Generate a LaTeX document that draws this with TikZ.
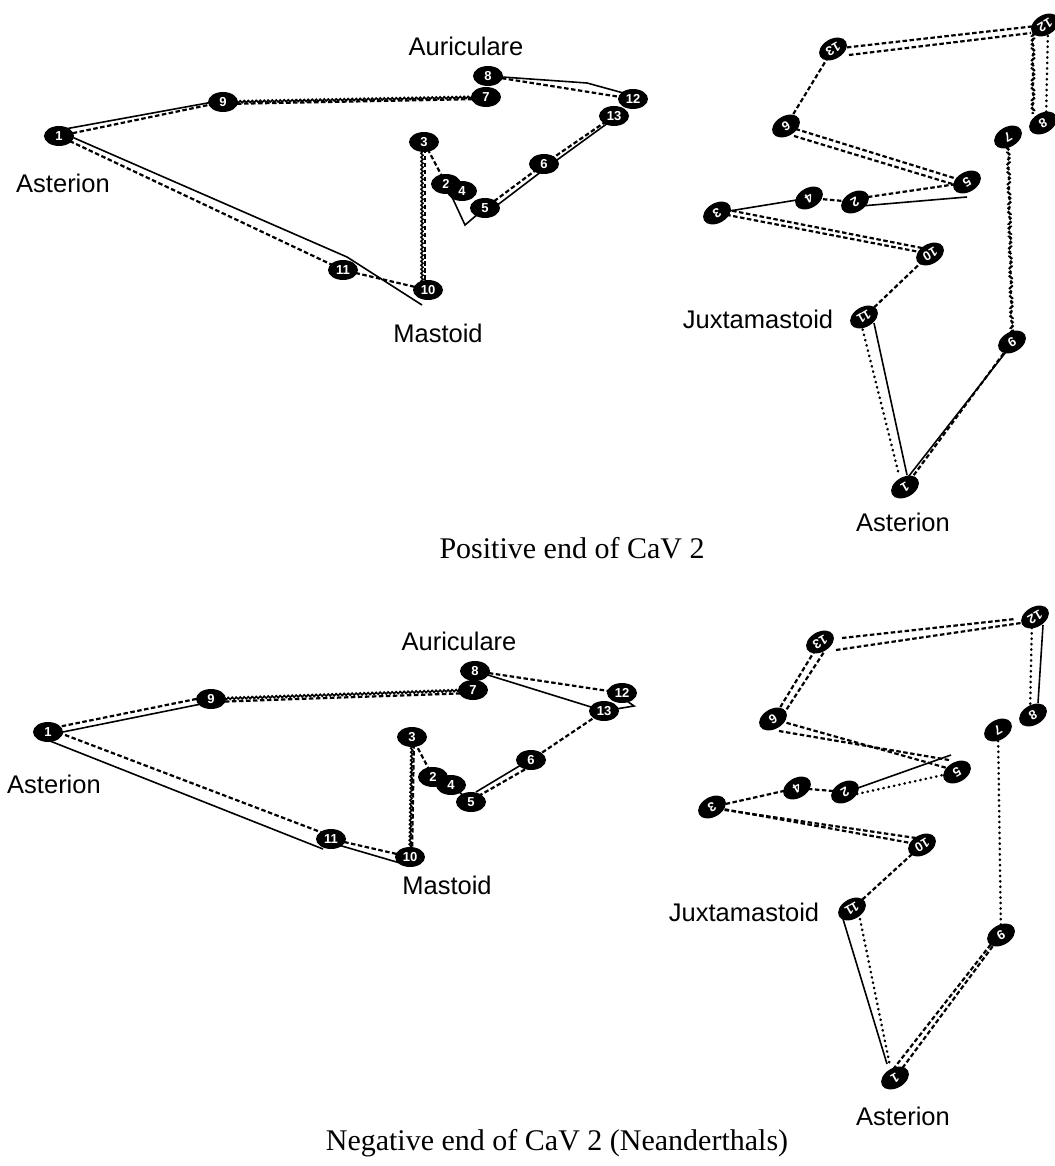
\documentclass[tikz,border=0pt]{standalone}
\usepackage{fontspec}
\setmainfont{Liberation Serif}
\newfontfamily\lblfamily{Liberation Sans}
\usetikzlibrary{shapes.geometric,decorations.pathmorphing}
\newcommand\mkfont{\lblfamily\bfseries\fontsize{13}{13}\selectfont}
\newcommand\lblfont{\lblfamily\fontsize{25.5}{28}\selectfont}
\newcommand\capfont{\fontsize{30}{34}\selectfont}
\tikzset{
  mk/.style={ellipse, fill=black, inner sep=0pt, minimum width=30pt,
    minimum height=20pt, text=white, font=\mkfont},
  mkr/.style={mk, rotate=210},
  solln/.style={line width=1.6pt},
  dsh/.style={line width=2.2pt, dash pattern=on 4.5pt off 2.5pt},
  dotln/.style={line width=2.6pt, line cap=round, dash pattern=on 0.4pt off 5pt},
  wav/.style={decorate, decoration={snake, amplitude=1pt, segment length=4pt}},
  lbl/.style={font=\lblfont, inner sep=0pt},
  captxt/.style={font=\capfont, inner sep=0pt}
}
\begin{document}
\begin{tikzpicture}[x=1pt, y=-1pt]
\useasboundingbox (0,0) rectangle (1054,1166);
\fill[white] (0,0) rectangle (1054,1166);

% ---------------- upper left outline ----------------
\coordinate (a1) at (59,136);   \coordinate (a9) at (223,102);
\coordinate (a8) at (488,76);   \coordinate (a7) at (486,97);
\coordinate (a12) at (633,99);  \coordinate (a13) at (614,116);
\coordinate (a6) at (544,164);  \coordinate (a5) at (485,208);
\coordinate (a4) at (462,191);  \coordinate (a2) at (446,184);
\coordinate (a3) at (424,142);  \coordinate (a10) at (428,290);
\coordinate (a11) at (343,270);
\coordinate (ak1) at (587,83);  \coordinate (ak2) at (465,225);

\draw[dsh] (a1) -- (a9);
\draw[solln] ([shift={(6,-7)}]a1) -- ([shift={(-10,0)}]a9);
\draw[solln,wav] (a9) -- (a7);
\draw[dsh] ([shift={(0,2)}]a9) -- ([shift={(-4,2)}]a7);
\draw[solln] (a8) -- (ak1) -- ([shift={(-6,-5)}]a12);
\draw[dsh] (a8) -- (a12);
\draw[dsh] (a12) -- (a13) -- (a6) -- (a5);
\draw[solln] ([shift={(-2,4)}]a13) -- ([shift={(2,4)}]a6) -- ([shift={(2,5)}]a5);
\draw[solln] (a5) -- (ak2) -- (a2);
\draw[dsh] (a2) -- (a3);
\draw[solln,wav] ([shift={(-2,0)}]a3) -- ([shift={(-6,-6)}]a10);
\draw[dsh] ([shift={(1,0)}]a3) -- ([shift={(-3,0)}]a10);
\draw[dsh] (a10) -- (a11) -- (a1);
\draw[solln] ([shift={(6,-2)}]a1) -- ([shift={(4,-13)}]a11) -- ([shift={(-6,15)}]a10);

\node[mk] (A1) at (a1) {1};   \node[mk] (A9) at (a9) {9};
\node[mk] (A8) at (a8) {8};   \node[mk] (A7) at (a7) {7};
\node[mk] (A12) at (a12) {12};\node[mk] (A13) at (a13) {13};
\node[mk] (A6) at (a6) {6};   \node[mk] (A3) at (a3) {3};
\node[mk] (A2) at (a2) {2};   \node[mk] (A4) at (a4) {4};
\node[mk] (A5) at (a5) {5};   \node[mk] (A11) at (a11) {11};
\node[mk] (A10) at (a10) {10};

\node[lbl] (ta1) at (466,46) {Auriculare};
\node[lbl] (ta2) at (63,183) {Asterion};
\node[lbl] (ta3) at (438,333) {Mastoid};

% ---------------- upper right outline ----------------
\coordinate (b13) at (833,49);  \coordinate (b12) at (1045,25);
\coordinate (b6) at (786,126);  \coordinate (b8) at (1043,123);
\coordinate (b7) at (1008,137); \coordinate (b5) at (967,182);
\coordinate (b4) at (809,198);  \coordinate (b2) at (855,202);
\coordinate (b3) at (717,213);  \coordinate (b10) at (930,254);
\coordinate (b11) at (864,317); \coordinate (b9) at (1012,342);
\coordinate (b1) at (905,487);

\draw[dsh] (b13) -- (b12);
\draw[dsh] ([shift={(16,6)}]b13) -- ([shift={(-14,8)}]b12);
\draw[dotln] ([shift={(3,0)}]b12) -- ([shift={(3,0)}]b8);
\draw[dsh,wav] ([shift={(-12,8)}]b12) -- ([shift={(-10,-9)}]b8);
\draw[dsh,wav] (b7) -- (b9);
\draw[dsh] (b9) -- (b1);
\draw[solln] ([shift={(-3,6)}]b9) -- ([shift={(0,-6)}]b1);
\draw[dotln] ([shift={(-4,2)}]b11) -- ([shift={(-6,-12)}]b1);
\draw[solln] ([shift={(10,6)}]b11) -- ([shift={(2,-12)}]b1);
\draw[dsh] (b11) -- (b10);
\draw[dsh] (b10) -- (b3);
\draw[dsh] ([shift={(-8,-6)}]b10) -- ([shift={(6,-4)}]b3);
\draw[solln] (b3) -- (b4);
\draw[dsh] (b4) -- (b2);
\draw[dsh] ([shift={(6,-4)}]b2) -- ([shift={(-10,2)}]b5);
\draw[solln] ([shift={(6,4)}]b2) -- ([shift={(0,15)}]b5);
\draw[dsh] (b5) -- (b6);
\draw[dsh] ([shift={(-8,4)}]b5) -- ([shift={(8,10)}]b6);
\draw[dsh] (b6) -- (b13);

\node[mkr] (B13) at (b13) {13}; \node[mkr] (B12) at (b12) {12};
\node[mkr] (B6) at (b6) {6};    \node[mkr] (B8) at (b8) {8};
\node[mkr] (B7) at (b7) {7};    \node[mkr] (B5) at (b5) {5};
\node[mkr] (B4) at (b4) {4};    \node[mkr] (B2) at (b2) {2};
\node[mkr] (B3) at (b3) {3};    \node[mkr] (B10) at (b10) {10};
\node[mkr] (B11) at (b11) {11}; \node[mkr] (B9) at (b9) {9};
\node[mkr] (B1) at (b1) {1};

\node[lbl] (tb1) at (758,319) {Juxtamastoid};
\node[lbl] (tb2) at (903,522) {Asterion};

\node[captxt] (cp1) at (572,548) {Positive end of CaV 2};

% ---------------- lower left outline ----------------
\coordinate (c1) at (48,732);   \coordinate (c9) at (211,699);
\coordinate (c8) at (475,671);  \coordinate (c7) at (473,690);
\coordinate (c12) at (622,693); \coordinate (c13) at (604,711);
\coordinate (c3) at (412,737);  \coordinate (c2) at (433,777);
\coordinate (c4) at (451,785);  \coordinate (c5) at (471,802);
\coordinate (c6) at (531,760);  \coordinate (c11) at (331,839);
\coordinate (c10) at (410,857);
\coordinate (ck1) at (634,706);

\draw[dsh] ([shift={(0,-3)}]c1) -- ([shift={(0,-3)}]c9);
\draw[solln] ([shift={(0,3)}]c1) -- ([shift={(0,3)}]c9);
\draw[solln,wav] (c9) -- (c7);
\draw[dsh] ([shift={(0,3)}]c9) -- ([shift={(0,3)}]c7);
\draw[dsh] (c8) -- (c12);
\draw[solln] (c8) -- (c13);
\draw[solln] ([shift={(5,8)}]c12) -- (ck1) -- (c13);
\draw[dsh] (c13) -- (c6);
\draw[solln] ([shift={(-5,2)}]c6) -- ([shift={(5,-10)}]c5);
\draw[dsh] ([shift={(0,6)}]c6) -- ([shift={(4,-4)}]c5);
\draw[solln] (c4) -- (c5);
\draw[dsh] (c2) -- (c3);
\draw[solln,wav] (c3) -- (c10);
\draw[dsh] ([shift={(2,0)}]c3) -- ([shift={(2,0)}]c10);
\draw[dsh] (c10) -- (c11);
\draw[solln] ([shift={(-10,6)}]c10) -- ([shift={(4,5)}]c11);
\draw[dsh] ([shift={(0,-3)}]c11) -- ([shift={(4,-2)}]c1);
\draw[solln] ([shift={(2,9)}]c1) -- ([shift={(-8,10)}]c11);

\node[mk] (C1) at (c1) {1};   \node[mk] (C9) at (c9) {9};
\node[mk] (C8) at (c8) {8};   \node[mk] (C7) at (c7) {7};
\node[mk] (C12) at (c12) {12};\node[mk] (C13) at (c13) {13};
\node[mk] (C6) at (c6) {6};   \node[mk] (C3) at (c3) {3};
\node[mk] (C2) at (c2) {2};   \node[mk] (C4) at (c4) {4};
\node[mk] (C5) at (c5) {5};   \node[mk] (C11) at (c11) {11};
\node[mk] (C10) at (c10) {10};

\node[lbl] (tc1) at (459,641) {Auriculare};
\node[lbl] (tc2) at (54,784) {Asterion};
\node[lbl] (tc3) at (447,885) {Mastoid};

% ---------------- lower right outline ----------------
\coordinate (d13) at (820,642); \coordinate (d12) at (1035,617);
\coordinate (d6) at (773,719);  \coordinate (d8) at (1033,715);
\coordinate (d7) at (998,730);  \coordinate (d5) at (957,772);
\coordinate (d4) at (797,788);  \coordinate (d2) at (845,792);
\coordinate (d3) at (712,807);  \coordinate (d10) at (922,845);
\coordinate (d11) at (852,909); \coordinate (d9) at (1001,935);
\coordinate (d1) at (895,1078);

\draw[dsh] ([shift={(22,-4)}]d13) -- ([shift={(-20,2)}]d12);
\draw[dsh] ([shift={(16,8)}]d13) -- ([shift={(-14,6)}]d12);
\draw[dotln] ([shift={(-3,0)}]d12) -- ([shift={(-3,0)}]d8);
\draw[solln] ([shift={(8,8)}]d12) -- ([shift={(5,-12)}]d8);
\draw[dotln] (d7) -- (d9);
\draw[dsh] (d9) -- (d1);
\draw[dsh] ([shift={(-6,4)}]d9) -- ([shift={(-4,-6)}]d1);
\draw[solln] ([shift={(-9,10)}]d11) -- ([shift={(-8,-14)}]d1);
\draw[dotln] ([shift={(8,10)}]d11) -- ([shift={(-5,-12)}]d1);
\draw[dsh] (d11) -- (d10);
\draw[dsh] (d10) -- (d3);
\draw[dsh] ([shift={(-6,-7)}]d10) -- ([shift={(6,2)}]d3);
\draw[dsh] (d3) -- (d4) -- (d2);
\draw[solln] ([shift={(10,-3)}]d2) -- ([shift={(-6,-17)}]d5);
\draw[dotln] ([shift={(12,2)}]d2) -- ([shift={(-14,3)}]d5);
\draw[dsh] (d6) -- ([shift={(-10,-4)}]d5);
\draw[dsh] ([shift={(6,12)}]d6) -- ([shift={(-8,-12)}]d5);
\draw[dsh] (d6) -- (d13);
\draw[dsh] ([shift={(6,2)}]d6) -- ([shift={(4,10)}]d13);

\node[mkr] (D13) at (d13) {13}; \node[mkr] (D12) at (d12) {12};
\node[mkr] (D6) at (d6) {6};    \node[mkr] (D8) at (d8) {8};
\node[mkr] (D7) at (d7) {7};    \node[mkr] (D5) at (d5) {5};
\node[mkr] (D4) at (d4) {4};    \node[mkr] (D2) at (d2) {2};
\node[mkr] (D3) at (d3) {3};    \node[mkr] (D10) at (d10) {10};
\node[mkr] (D11) at (d11) {11}; \node[mkr] (D9) at (d9) {9};
\node[mkr] (D1) at (d1) {1};

\node[lbl] (td1) at (744,912) {Juxtamastoid};
\node[lbl] (td2) at (903,1116) {Asterion};

\node[captxt] (cp2) at (557,1143) {Negative end of CaV 2 (Neanderthals)};
\end{tikzpicture}
\end{document}
